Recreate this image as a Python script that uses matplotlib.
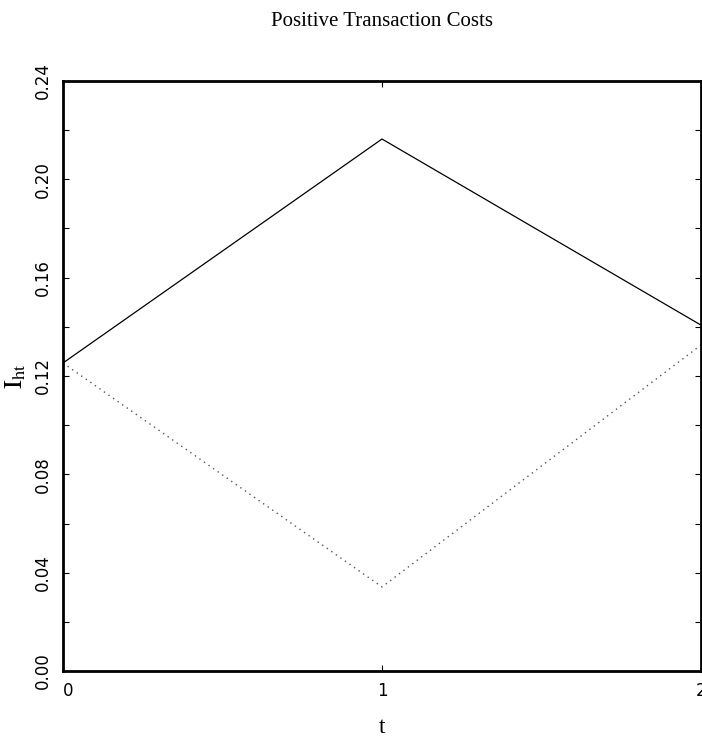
import matplotlib
matplotlib.use('Agg')
import matplotlib.pyplot as plt
from matplotlib.ticker import MultipleLocator

plt.rcParams['mathtext.fontset'] = 'stix'

# data
t       = [0, 1, 2]
upper   = [0.1253, 0.2164, 0.1407]
lower   = [0.1253, 0.0342, 0.1326]
yticks  = [0.00, 0.04, 0.08, 0.12, 0.16, 0.20, 0.24]
xticks  = [0, 1, 2]

W, H = 702, 751
fig = plt.figure(figsize=(W / 100, H / 100), dpi=100)
ax = fig.add_axes([63 / W, 1 - 671 / H, (701 - 63) / W, (671 - 81) / H])

ax.plot(t, upper, color='black', lw=0.9)
ax.plot(t, lower, color='#555555', lw=1.0, ls=(0, (1, 3)))

ax.set_xlim(0, 2)
ax.set_ylim(0, 0.24)
ax.set_yticks(yticks)
ax.set_xticks(xticks)
ax.yaxis.set_minor_locator(MultipleLocator(0.02))
ax.tick_params(which='both', direction='in', length=4, width=0.8,
               top=True, right=True, labelsize=12)
ax.tick_params(axis='x', pad=8)
ax.tick_params(axis='y', pad=8)
ax.set_yticklabels([f"{v:.2f}" for v in yticks], rotation=90, va='center')
ax.get_xticklabels()[0].set_horizontalalignment('left')
for s in ax.spines.values():
    s.set_linewidth(2)

ax.set_xlabel('t', family='Liberation Serif', fontsize=17, labelpad=12)
ax.set_ylabel(r'$\mathrm{I_{ht}}$', fontsize=19, labelpad=4)
fig.text(382 / W, 1 - 22 / H, 'Positive Transaction Costs', ha='center', va='center',
         family='Liberation Serif', fontsize=15)

plt.savefig('out.png', dpi=100)
